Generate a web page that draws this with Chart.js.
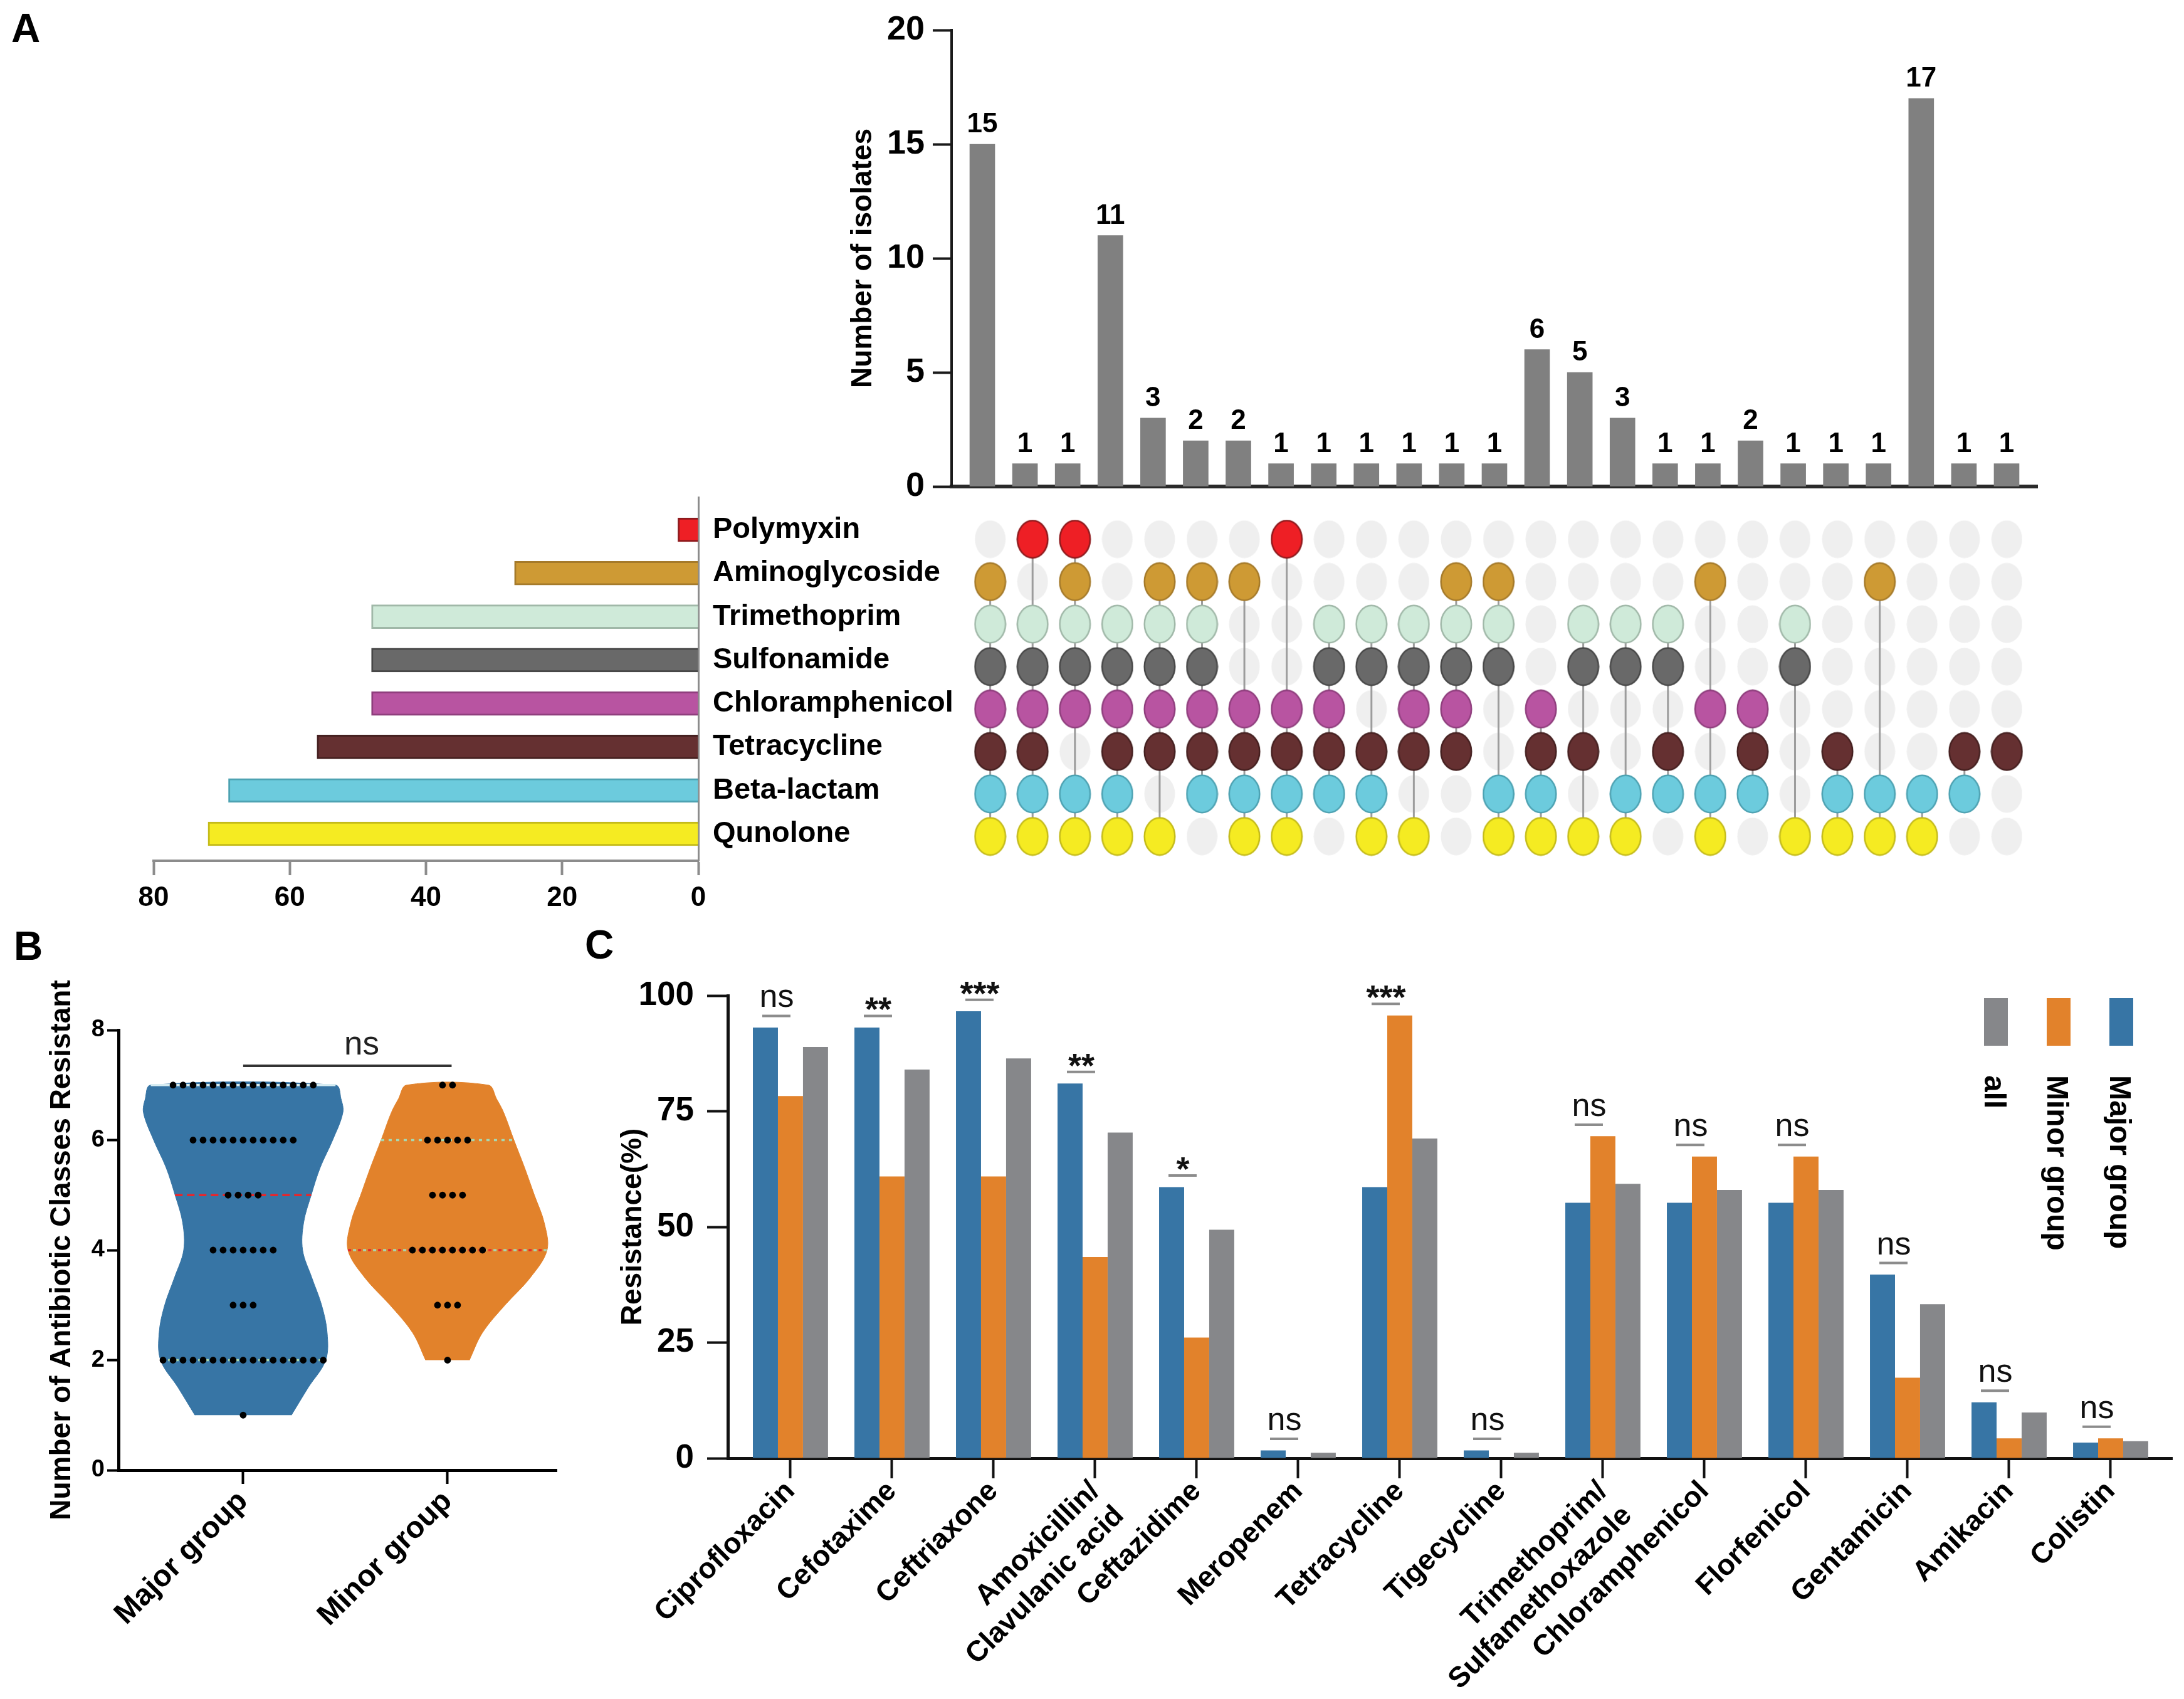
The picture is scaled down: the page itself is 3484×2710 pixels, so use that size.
<!DOCTYPE html>
<html>
<head>
<meta charset="utf-8">
<title>Antibiotic resistance patterns</title>
<script src="https://cdn.jsdelivr.net/npm/chart.js@4.4.1/dist/chart.umd.min.js"></script>
<style>
  html, body { margin:0; padding:0; background:#ffffff; }
  #page { position:relative; width:3484px; height:2710px; overflow:hidden; background:#ffffff; font-family:'Liberation Sans', Arial, sans-serif; }
  #page canvas { position:absolute; }
  .panel-tag { position:absolute; font-weight:bold; font-size:64px; line-height:1; color:#000; }
</style>
</head>
<body>
<div id="page">
  <div class="panel-tag" style="left:18px;top:13px">A</div>
  <div class="panel-tag" style="left:22px;top:1477px">B</div>
  <div class="panel-tag" style="left:933px;top:1475px">C</div>
  <canvas id="upsetBars" width="2000" height="830" style="left:1300px;top:0px"></canvas>
  <canvas id="upsetMatrix" width="1800" height="640" style="left:1500px;top:780px"></canvas>
  <canvas id="setSizes" width="1400" height="760" style="left:150px;top:738px"></canvas>
  <canvas id="violin" width="950" height="1260" style="left:0px;top:1450px"></canvas>
  <canvas id="resistance" width="2534" height="1260" style="left:950px;top:1450px"></canvas>
</div>
<script>
// ---------------- DATA ----------------
// Panel A: intersection sizes (25 combinations)
const upsetCounts = [15,1,1,11,3,2,2,1,1,1,1,1,1,6,5,3,1,1,2,1,1,1,17,1,1];
// Panel A: antibiotic classes and set sizes
const classNames  = ['Polymyxin','Aminoglycoside','Trimethoprim','Sulfonamide','Chloramphenicol','Tetracycline','Beta-lactam','Qunolone'];
const classTotals = [3,27,48,48,48,56,69,72];
// Panel A: membership of each combination (1 = resistant class present)
const inPolymyxin       = [0,1,1,0,0,0,0,1,0,0,0,0,0,0,0,0,0,0,0,0,0,0,0,0,0];
const inAminoglycoside  = [1,0,1,0,1,1,1,0,0,0,0,1,1,0,0,0,0,1,0,0,0,1,0,0,0];
const inTrimethoprim    = [1,1,1,1,1,1,0,0,1,1,1,1,1,0,1,1,1,0,0,1,0,0,0,0,0];
const inSulfonamide     = [1,1,1,1,1,1,0,0,1,1,1,1,1,0,1,1,1,0,0,1,0,0,0,0,0];
const inChloramphenicol = [1,1,1,1,1,1,1,1,1,0,1,1,0,1,0,0,0,1,1,0,0,0,0,0,0];
const inTetracycline    = [1,1,0,1,1,1,1,1,1,1,1,1,0,1,1,0,1,0,1,0,1,0,0,1,1];
const inBetaLactam      = [1,1,1,1,0,1,1,1,1,1,0,0,1,1,0,1,1,1,1,0,1,1,1,1,0];
const inQunolone        = [1,1,1,1,1,0,1,1,0,1,1,0,1,1,1,1,0,1,0,1,1,1,1,0,0];

// Panel B: number of classes resistant, dot counts per level
const groupNames   = ['Major group','Minor group'];
const classLevels  = [1,2,3,4,5,6,7];
const majorCounts  = [1,17,3,7,4,11,15];
const minorCounts  = [0,1,3,8,4,5,2];
const majorQuartiles = [2,5,7];   // Q1, median, Q3
const minorQuartiles = [4,4,6];
// Panel B: violin half-widths (x units) read at these levels
const violinLevels         = [1,1.5,2,2.5,3,3.5,4,4.5,5,5.5,6,6.5,6.75,7];
const majorViolinHalfWidth = [0.236,0.318,0.404,0.411,0.384,0.336,0.291,0.296,0.333,0.377,0.438,0.488,0.479,0.452];
const minorViolinHalfWidth = [null,null,0.107,0.171,0.281,0.405,0.487,0.473,0.425,0.377,0.325,0.275,0.240,0.200];

// Panel C: resistance (%)
const drugLabels  = ['Ciprofloxacin','Cefotaxime','Ceftriaxone',['Amoxicillin/','Clavulanic acid'],'Ceftazidime','Meropenem','Tetracycline','Tigecycline',['Trimethoprim/','Sulfamethoxazole'],'Chloramphenicol','Florfenicol','Gentamicin','Amikacin','Colistin'];
const majorResist = [93.1,93.1,96.6,81.0,58.6,1.7,58.6,1.7,55.2,55.2,55.2,39.7,12.1,3.4];
const minorResist = [78.3,60.9,60.9,43.5,26.1,0.0,95.7,0.0,69.6,65.2,65.2,17.4,4.3,4.3];
const allResist   = [88.9,84.0,86.4,70.4,49.4,1.2,69.1,1.2,59.3,58.0,58.0,33.3,9.9,3.7];
const sigLabels   = ['ns','**','***','**','*','ns','***','ns','ns','ns','ns','ns','ns','ns'];
const seriesNames = ['Major group','Minor group','all'];

// ---------------- STYLE ----------------
const FONT = "'Liberation Sans', Arial, sans-serif";
const classColors = ['#EE1F25','#CE9A34','#CFEAD9','#696969','#B854A1','#653031','#6CCBDD','#F5EB22'];
const classEdges  = ['#8E1A1D','#A57A2A','#A0B8A8','#474747','#8F3E7D','#452020','#4DA2B2','#C4BB1A'];
const seriesColors = ['#3775A5','#E2822B','#86878A'];

Chart.defaults.font.family = FONT;
Chart.defaults.color = '#000';
Chart.defaults.animation = false;
Chart.defaults.plugins.legend.display = false;
Chart.defaults.plugins.tooltip.enabled = false;

function ellipseSprite(fill, edge, w, h, lw) {
  const c = document.createElement('canvas');
  c.width = w; c.height = h;
  const g = c.getContext('2d');
  g.beginPath();
  g.ellipse(w / 2, h / 2, w / 2 - lw / 2 - 0.5, h / 2 - lw / 2 - 0.5, 0, 0, Math.PI * 2);
  g.fillStyle = fill; g.fill();
  if (lw > 0) { g.lineWidth = lw; g.strokeStyle = edge; g.stroke(); }
  return c;
}

// ---------------- PANEL A : intersection bars ----------------
const valueLabels = {
  id: 'valueLabels',
  afterDatasetsDraw(chart) {
    const ctx = chart.ctx;
    const meta = chart.getDatasetMeta(0);
    ctx.save();
    ctx.font = 'bold 44px ' + FONT;
    ctx.textAlign = 'center';
    ctx.textBaseline = 'alphabetic';
    ctx.fillStyle = '#000';
    meta.data.forEach((bar, i) => ctx.fillText(String(upsetCounts[i]), bar.x, bar.y - 19));
    ctx.restore();
  }
};

new Chart(document.getElementById('upsetBars'), {
  type: 'bar',
  data: { datasets: [{ data: upsetCounts.map((v, i) => ({ x: i, y: v })), backgroundColor: '#808080', barThickness: 40 }] },
  options: {
    responsive: false, devicePixelRatio: 1, animation: false,
    layout: { padding: { left: 50, right: 50, top: 48, bottom: 20 } },
    scales: {
      x: { type: 'linear', min: -0.72, max: 24.72, offset: false,
           ticks: { display: false }, grid: { display: false, offset: false },
           border: { display: true, color: '#2a2a2a', width: 6 },
           afterFit(s) { s.height = 34; } },
      y: { type: 'linear', min: 0, max: 20,
           ticks: { stepSize: 5, font: { size: 54, weight: 'bold' }, padding: 13, color: '#000' },
           grid: { drawOnChartArea: false, drawTicks: true, tickLength: 30, tickWidth: 4, tickColor: '#1a1a1a' },
           border: { color: '#1a1a1a', width: 4 },
           title: { display: true, text: 'Number of isolates', font: { size: 46, weight: 'bold' }, padding: 0, color: '#000' },
           afterFit(s) { s.width = 168; } }
    }
  },
  plugins: [valueLabels]
});

// ---------------- PANEL A : membership matrix ----------------
const membership = [inPolymyxin, inAminoglycoside, inTrimethoprim, inSulfonamide, inChloramphenicol, inTetracycline, inBetaLactam, inQunolone];
const matrixDatasets = [];
const emptyCells = [];
upsetCounts.forEach((_, c) => classNames.forEach((_, r) => emptyCells.push({ x: c, y: r })));
matrixDatasets.push({ data: emptyCells, pointStyle: ellipseSprite('#EFEFEF', null, 50, 61, 0), pointRadius: 30, order: 3 });
upsetCounts.forEach((_, c) => {
  const rows = membership.map((m, r) => (m[c] ? r : -1)).filter(r => r >= 0);
  if (rows.length > 1) {
    matrixDatasets.push({ data: [{ x: c, y: rows[0] }, { x: c, y: rows[rows.length - 1] }],
      showLine: true, borderColor: '#9c9c9c', borderWidth: 3, pointRadius: 0, order: 2 });
  }
});
membership.forEach((m, r) => {
  matrixDatasets.push({ data: m.map((v, c) => (v ? { x: c, y: r } : null)).filter(Boolean),
    pointStyle: ellipseSprite(classColors[r], classEdges[r], 52, 63, 2.5), pointRadius: 30, order: 1 });
});

new Chart(document.getElementById('upsetMatrix'), {
  type: 'scatter',
  data: { datasets: matrixDatasets },
  options: {
    responsive: false, devicePixelRatio: 1, animation: false,
    layout: { padding: { left: 18, right: 50, top: 10, bottom: 30 } },
    scales: {
      x: { type: 'linear', min: -0.72, max: 24.72, display: false },
      y: { type: 'linear', min: -0.725, max: 7.81, reverse: true, display: false }
    }
  }
});

// ---------------- PANEL A : set sizes ----------------
new Chart(document.getElementById('setSizes'), {
  type: 'bar',
  data: { datasets: [{ data: classTotals.map((v, i) => ({ x: v, y: i })),
    backgroundColor: classColors, borderColor: classEdges, borderWidth: 3, barThickness: 38 }] },
  options: {
    indexAxis: 'y',
    responsive: false, devicePixelRatio: 1, animation: false,
    layout: { padding: { left: 95, right: 0, top: 55, bottom: 45 } },
    scales: {
      x: { type: 'linear', reverse: true, min: 0, max: 80, position: 'bottom', offset: false,
           ticks: { stepSize: 20, font: { size: 44, weight: 'bold' }, padding: 10, color: '#000' },
           grid: { drawOnChartArea: false, tickLength: 23, tickWidth: 4, tickColor: '#8c8c8c', offset: false },
           border: { color: '#8c8c8c', width: 4 },
           afterFit(s) { s.height = 80; } },
      y: { type: 'linear', reverse: true, min: -0.75, max: 7.62, position: 'right', offset: false,
           afterBuildTicks(s) { s.ticks = classNames.map((_, i) => ({ value: i })); },
           ticks: { callback: v => classNames[v], autoSkip: false, font: { size: 47, weight: 'bold' }, padding: 23, color: '#000' },
           grid: { display: false, drawTicks: false, offset: false },
           border: { color: '#8c8c8c', width: 3 },
           afterFit(s) { s.width = 436; } }
    }
  }
});

// ---------------- PANEL B : violin ----------------
function violinOutline(center, widths) {
  const pts = [];
  violinLevels.forEach((y, i) => { if (widths[i] != null) pts.push({ x: center + widths[i], y }); });
  for (let i = violinLevels.length - 1; i >= 0; i--) {
    if (widths[i] != null) pts.push({ x: center - widths[i], y: violinLevels[i] });
  }
  return pts;
}
function levelLine(center, widths, level, color, dash, dashOffset) {
  const w = widths[violinLevels.indexOf(level)];
  return { data: [{ x: center - w, y: level }, { x: center + w, y: level }], showLine: true,
    borderColor: color, borderWidth: 3.5, borderDash: dash, borderDashOffset: dashOffset, pointRadius: 0, order: 2 };
}
const DOT_STEP = 0.049;
function dotRows(center, counts) {
  const pts = [];
  counts.forEach((n, k) => {
    for (let j = 0; j < n; j++) pts.push({ x: center + (j - (n - 1) / 2) * DOT_STEP, y: classLevels[k] });
  });
  return pts;
}
const violinOverlay = {
  id: 'violinOverlay',
  afterDatasetsDraw(chart) {
    const ctx = chart.ctx, xs = chart.scales.x, ys = chart.scales.y;
    const y = ys.getPixelForValue(7.35);
    ctx.save();
    ctx.strokeStyle = '#333'; ctx.lineWidth = 4;
    ctx.beginPath(); ctx.moveTo(xs.getPixelForValue(0), y); ctx.lineTo(xs.getPixelForValue(1.02), y); ctx.stroke();
    ctx.font = '53px ' + FONT; ctx.textAlign = 'center'; ctx.textBaseline = 'alphabetic'; ctx.fillStyle = '#222';
    ctx.fillText('ns', xs.getPixelForValue(0.58), y - 18);
    ctx.restore();
  }
};
const QCOL = '#A8D8B0', MCOL = '#E8262B';
new Chart(document.getElementById('violin'), {
  type: 'scatter',
  data: { datasets: [
    { data: violinOutline(0, majorViolinHalfWidth), showLine: true, fill: 'shape', tension: 0.35,
      backgroundColor: seriesColors[0], borderColor: seriesColors[0], borderWidth: 1, pointRadius: 0, order: 5 },
    { data: violinOutline(1, minorViolinHalfWidth), showLine: true, fill: 'shape', tension: 0.35,
      backgroundColor: seriesColors[1], borderColor: seriesColors[1], borderWidth: 1, pointRadius: 0, order: 5 },
    levelLine(0, majorViolinHalfWidth, majorQuartiles[0], QCOL, [5, 7], 0),
    levelLine(0, majorViolinHalfWidth, majorQuartiles[2], '#D6ECF2', [], 0),
    levelLine(0, majorViolinHalfWidth, majorQuartiles[1], MCOL, [12, 7], 0),
    levelLine(1, minorViolinHalfWidth, minorQuartiles[0], QCOL, [5, 11], 8),
    levelLine(1, minorViolinHalfWidth, minorQuartiles[2], QCOL, [5, 7], 0),
    levelLine(1, minorViolinHalfWidth, minorQuartiles[1], MCOL, [5, 11], 0),
    { data: dotRows(0, majorCounts), pointRadius: 5.4, backgroundColor: '#000', borderWidth: 0, order: 0 },
    { data: dotRows(1, minorCounts), pointRadius: 5.4, backgroundColor: '#000', borderWidth: 0, order: 0 }
  ] },
  options: {
    responsive: false, devicePixelRatio: 1, animation: false,
    layout: { padding: { left: 72, right: 62, top: 193, bottom: 5 } },
    scales: {
      x: { type: 'linear', min: -0.61, max: 1.534,
           afterBuildTicks(s) { s.ticks = groupNames.map((_, i) => ({ value: i })); },
           ticks: { callback: v => groupNames[v], autoSkip: false, minRotation: 45, maxRotation: 45,
                    font: { size: 48, weight: 'bold' }, padding: 0, color: '#000' },
           grid: { drawOnChartArea: false, tickLength: 22, tickWidth: 4, tickColor: '#000' },
           border: { color: '#000', width: 5 },
           afterFit(s) { s.height = 360; } },
      y: { type: 'linear', min: 0, max: 8,
           ticks: { stepSize: 2, font: { size: 38, weight: 'bold' }, padding: 4, color: '#000' },
           grid: { drawOnChartArea: false, tickLength: 18, tickWidth: 4, tickColor: '#000' },
           border: { color: '#000', width: 5 },
           title: { display: true, text: 'Number of Antibiotic Classes Resistant', font: { size: 46, weight: 'bold' }, padding: 0, color: '#000' },
           afterFit(s) { s.width = 117; } }
    }
  },
  plugins: [violinOverlay]
});

// ---------------- PANEL C : resistance bars ----------------
const resistanceOverlay = {
  id: 'resistanceOverlay',
  afterDatasetsDraw(chart) {
    const ctx = chart.ctx, ys = chart.scales.y;
    const mB = chart.getDatasetMeta(0), mO = chart.getDatasetMeta(1);
    ctx.save();
    sigLabels.forEach((lab, i) => {
      const xb = mB.data[i].x, xo = mO.data[i].x;
      const y = ys.getPixelForValue(Math.max(majorResist[i], minorResist[i]) + 2.5);
      ctx.strokeStyle = '#8c8c8c'; ctx.lineWidth = 4;
      ctx.beginPath(); ctx.moveTo(xb - 5, y); ctx.lineTo(xo, y); ctx.stroke();
      ctx.fillStyle = '#111'; ctx.textAlign = 'center'; ctx.textBaseline = 'alphabetic';
      if (lab === 'ns') { ctx.font = '52px ' + FONT; ctx.fillText(lab, (xb + xo) / 2 - 2, y - 14); }
      else { ctx.font = 'bold 54px ' + FONT; ctx.fillText(lab, (xb + xo) / 2 - 2, y + 8); }
    });
    // rotated legend: all, Minor group, Major group
    [2, 1, 0].forEach((d, k) => {
      const ds = chart.data.datasets[d];
      const x0 = 2215 + k * 100;
      ctx.fillStyle = ds.backgroundColor;
      ctx.fillRect(x0, 142, 38, 76);
      ctx.save();
      ctx.translate(x0 + 1, 265);
      ctx.rotate(Math.PI / 2);
      ctx.font = 'bold 48px ' + FONT; ctx.textAlign = 'left'; ctx.textBaseline = 'alphabetic'; ctx.fillStyle = '#000';
      ctx.fillText(ds.label, 0, 0);
      ctx.restore();
    });
    ctx.restore();
  }
};
const toXY = arr => arr.map((v, i) => ({ x: i, y: v }));
new Chart(document.getElementById('resistance'), {
  type: 'bar',
  data: { datasets: [
    { label: seriesNames[0], data: toXY(majorResist), backgroundColor: seriesColors[0] },
    { label: seriesNames[1], data: toXY(minorResist), backgroundColor: seriesColors[1] },
    { label: seriesNames[2], data: toXY(allResist),   backgroundColor: seriesColors[2] }
  ] },
  options: {
    responsive: false, devicePixelRatio: 1, animation: false,
    datasets: { bar: { categoryPercentage: 0.74, barPercentage: 1.0 } },
    layout: { padding: { left: 33, right: 19, top: 138, bottom: 4 } },
    scales: {
      x: { type: 'linear', min: -0.617, max: 13.605, offset: false,
           afterBuildTicks(s) { s.ticks = drugLabels.map((_, i) => ({ value: i })); },
           ticks: { callback: v => drugLabels[v], autoSkip: false, minRotation: 45, maxRotation: 45,
                    font: { size: 46, weight: 'bold' }, padding: -6, color: '#000' },
           grid: { drawOnChartArea: false, tickLength: 32, tickWidth: 4, tickColor: '#111', offset: false },
           border: { color: '#111', width: 5 },
           afterFit(s) { s.height = 380; } },
      y: { type: 'linear', min: 0, max: 100,
           ticks: { stepSize: 25, font: { size: 53, weight: 'bold' }, padding: 21, color: '#000' },
           grid: { drawOnChartArea: false, tickLength: 33, tickWidth: 4, tickColor: '#111' },
           border: { color: '#111', width: 5 },
           title: { display: true, text: 'Resistance(%)', font: { size: 46, weight: 'bold' }, padding: 0, color: '#000' },
           afterFit(s) { s.width = 178; } }
    }
  },
  plugins: [resistanceOverlay]
});
</script>
</body>
</html>
